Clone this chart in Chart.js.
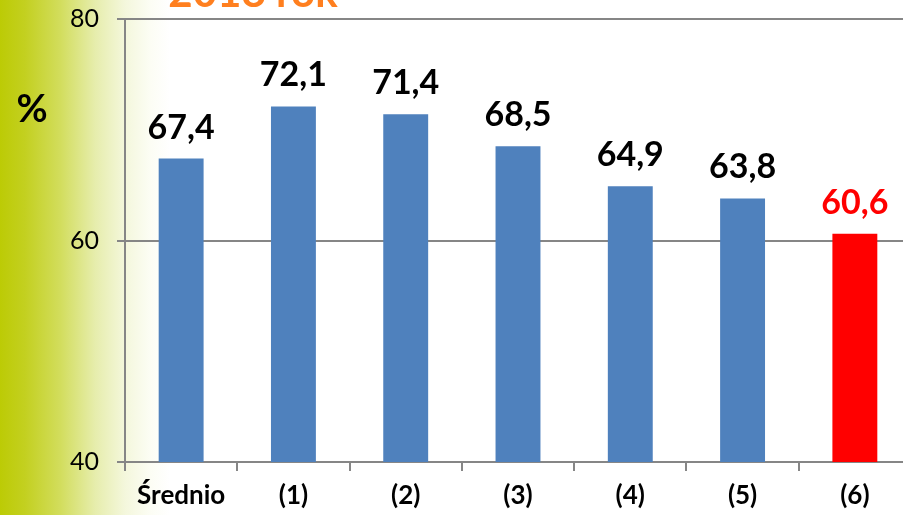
<!DOCTYPE html>
<html>
<head>
<meta charset="utf-8">
<script src="https://cdn.jsdelivr.net/npm/chart.js@4.4.1/dist/chart.umd.min.js"></script>
<style>
  html, body { margin: 0; padding: 0; overflow: hidden; }
  body {
    width: 903px; height: 515px;
    background: linear-gradient(to right, #bccb05 0px, #c3d020 25px, #d2dd5c 60px, #e6edac 95px, #f4f7dc 125px, #fcfdf4 150px, #ffffff 170px);
  }
  #wrap { width: 915px; height: 515px; }
</style>
</head>
<body>
<div id="wrap"><canvas id="barChart"></canvas></div>
<script>
const categories = ["Średnio", "(1)", "(2)", "(3)", "(4)", "(5)", "(6)"];
const values = [67.4, 72.1, 71.4, 68.5, 64.9, 63.8, 60.6];
const yTicks = [40, 60, 80];
const titleText = "2018 rok";
const axisLabel = "%";

const barColors = values.map((v, i) => (i === values.length - 1 ? "#ff0000" : "#4f81bd"));
const labelColors = values.map((v, i) => (i === values.length - 1 ? "#ff0000" : "#000000"));

Chart.defaults.font.family = "Lato";

// value labels, title and "%" drawn on top of the bars
const extras = {
  id: "extras",
  afterDatasetsDraw(chart) {
    const ctx = chart.ctx;
    const meta = chart.getDatasetMeta(0);
    ctx.save();
    ctx.textAlign = "center";
    ctx.textBaseline = "alphabetic";
    ctx.font = "bold 34px Lato";
    meta.data.forEach((bar, i) => {
      ctx.fillStyle = labelColors[i];
      ctx.fillText(values[i].toFixed(1).replace(".", ","), bar.x, bar.y - 20);
    });
    ctx.fillStyle = "#ff7f1f";
    ctx.font = "bold 42px Lato";
    ctx.fillText(titleText, 253, 7);
    ctx.fillStyle = "#000000";
    ctx.font = "bold 38px Lato";
    ctx.fillText(axisLabel, 32, 122);
    ctx.restore();
  },
};

new Chart(document.getElementById("barChart"), {
  type: "bar",
  data: {
    labels: categories,
    datasets: [
      {
        data: values,
        backgroundColor: barColors,
        barPercentage: 0.4,
        categoryPercentage: 1,
      },
    ],
  },
  options: {
    responsive: true,
    maintainAspectRatio: false,
    animation: false,
    layout: { padding: { top: 19, right: 4, left: 0, bottom: 0 } },
    plugins: {
      legend: { display: false },
      tooltip: { enabled: false },
    },
    scales: {
      x: {
        afterFit: (axis) => { axis.height = 53; axis.paddingLeft = 0; axis.paddingRight = 0; },
        border: { color: "#868686", width: 2 },
        grid: { drawOnChartArea: false, color: "#868686", lineWidth: 2, tickLength: 9, offset: true },
        ticks: { color: "#000000", font: { family: "Lato", size: 26, weight: "bold" }, padding: 9 },
      },
      y: {
        min: 40,
        max: 80,
        afterFit: (axis) => { axis.width = 125; axis.paddingTop = 0; axis.paddingBottom = 0; },
        afterBuildTicks: (axis) => { axis.ticks = yTicks.map((v) => ({ value: v })); },
        border: { color: "#868686", width: 2 },
        grid: { color: "#868686", lineWidth: 2, tickLength: 8 },
        ticks: { color: "#000000", font: { family: "Lato", size: 25 }, padding: 18 },
      },
    },
  },
  plugins: [extras],
});
</script>
</body>
</html>
